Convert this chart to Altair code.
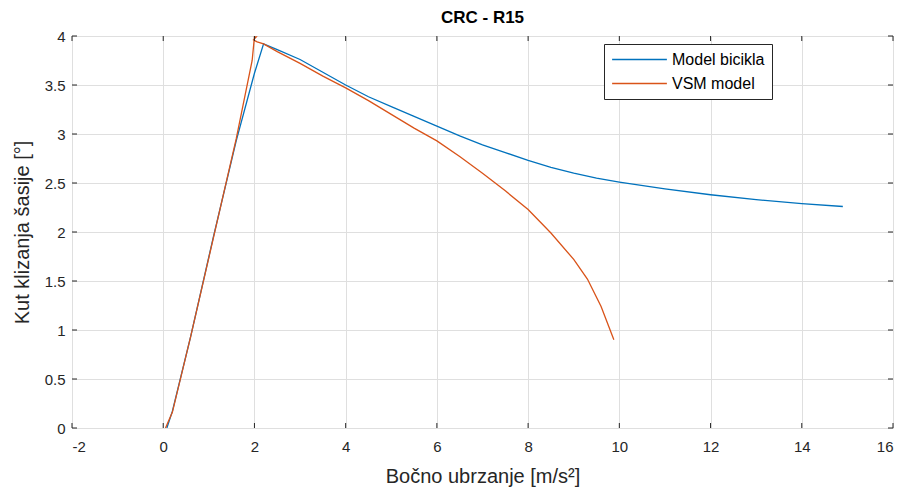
import altair as alt
import pandas as pd

# Model bicikla (blue)
bike_x = [0.08, 0.2, 0.6, 1.1, 1.6, 2.0, 2.2, 2.5, 3.0, 3.5, 4.0, 4.5, 5.0, 5.5, 6.0, 6.5, 7.0,
          7.5, 8.0, 8.5, 9.0, 9.5, 10.0, 11.0, 12.0, 13.0, 14.0, 14.9]
bike_y = [0.0, 0.17, 0.93, 1.95, 2.93, 3.62, 3.92, 3.86, 3.76, 3.63, 3.50, 3.38, 3.28, 3.18, 3.08,
          2.98, 2.89, 2.81, 2.73, 2.66, 2.60, 2.55, 2.51, 2.44, 2.38, 2.33, 2.29, 2.26]

# VSM model (orange)
vsm_x = [0.05, 0.2, 0.6, 1.1, 1.6, 1.95, 2.0, 2.04, 1.98, 2.06, 2.2, 2.5, 3.0, 3.5, 4.0, 4.5,
         5.0, 5.5, 6.0, 6.5, 7.0, 7.5, 8.0, 8.5, 9.0, 9.3, 9.6, 9.88]
vsm_y = [0.0, 0.16, 0.93, 1.94, 2.95, 3.75, 3.99, 3.99, 3.96, 3.94, 3.92, 3.84, 3.72, 3.59, 3.47,
         3.34, 3.20, 3.06, 2.93, 2.77, 2.60, 2.42, 2.23, 1.99, 1.72, 1.52, 1.24, 0.90]

series_names = ["Model bicikla", "VSM model"]
series_colors = ["#0072BD", "#D95319"]

x_ticks = [-2, 0, 2, 4, 6, 8, 10, 12, 14, 16]
y_ticks = [0, 0.5, 1, 1.5, 2, 2.5, 3, 3.5, 4]

rows = []
for i, (x, y) in enumerate(zip(bike_x, bike_y)):
    rows.append({"x": x, "y": y, "series": series_names[0], "order": i})
for i, (x, y) in enumerate(zip(vsm_x, vsm_y)):
    rows.append({"x": x, "y": y, "series": series_names[1], "order": i})
df = pd.DataFrame(rows)

W, H = 821, 392
FONT = "Liberation Sans"
TXT = "#262626"

xscale = alt.Scale(domain=[-2, 16], nice=False)
yscale = alt.Scale(domain=[0, 4], nice=False)

common_axis = dict(grid=True, gridColor="#dfdfdf", tickSize=0, domain=False,
                   labelFontSize=15, labelColor=TXT, labelFont=FONT,
                   titleFontSize=20, titleFontWeight="normal", titleColor=TXT,
                   titleFont=FONT, labelExpr="datum.value + ''")

lines = alt.Chart(df).mark_line(strokeWidth=1.3, clip=True).encode(
    x=alt.X("x:Q", scale=xscale,
            axis=alt.Axis(values=x_ticks, title="Bočno ubrzanje [m/s²]",
                          labelPadding=11, titlePadding=12, **common_axis)),
    y=alt.Y("y:Q", scale=yscale,
            axis=alt.Axis(values=y_ticks, title="Kut klizanja šasije [°]",
                          labelPadding=7, titlePadding=12, **common_axis)),
    color=alt.Color("series:N", scale=alt.Scale(domain=series_names, range=series_colors),
                    legend=alt.Legend(title=None, orient="none", legendX=532, legendY=8,
                                      symbolType="M-1,0H1", symbolSize=3000,
                                      symbolStrokeWidth=1.5, labelFontSize=16,
                                      labelFont=FONT, labelColor="#000000",
                                      strokeColor="#262626", fillColor="white",
                                      clipHeight=17,
                                      padding=7, rowPadding=7, labelOffset=4)),
    order="order:Q",
)

xt = pd.DataFrame({"v": x_ticks})
yt = pd.DataFrame({"v": y_ticks})
tick_color = "#262626"
xb = alt.Chart(xt).mark_rule(color=tick_color, strokeWidth=1).encode(
    x=alt.X("v:Q", scale=xscale), y=alt.value(H), y2=alt.value(H - 5))
xtp = alt.Chart(xt).mark_rule(color=tick_color, strokeWidth=1).encode(
    x=alt.X("v:Q", scale=xscale), y=alt.value(0), y2=alt.value(5))
yl = alt.Chart(yt).mark_rule(color=tick_color, strokeWidth=1).encode(
    y=alt.Y("v:Q", scale=yscale), x=alt.value(0), x2=alt.value(5))
yr = alt.Chart(yt).mark_rule(color=tick_color, strokeWidth=1).encode(
    y=alt.Y("v:Q", scale=yscale), x=alt.value(W), x2=alt.value(W - 5))

chart = alt.layer(lines, xb, xtp, yl, yr).properties(
    width=W, height=H,
    title=alt.Title("CRC - R15", fontSize=17, fontWeight="bold", font=FONT, color="#000000",
                    offset=2, frame="group"),
    autosize=alt.AutoSizeParams(type="none"),
    padding={"left": 64, "top": 28, "right": 7, "bottom": 62},
).configure_view(stroke="#262626", strokeWidth=1).configure(background="white")

chart.save("out.html", embed_options={"renderer": "svg", "actions": False})
